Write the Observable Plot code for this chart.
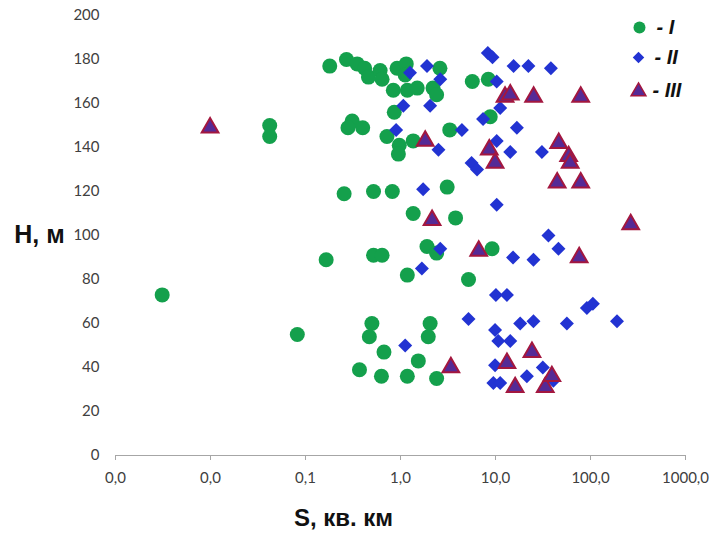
<!DOCTYPE html>
<html><head><meta charset="utf-8">
<script src="https://cdn.jsdelivr.net/npm/d3@7"></script>
<script src="https://cdn.jsdelivr.net/npm/@observablehq/plot@0.6"></script>
<style>body{margin:0;background:#fff}</style>
</head><body><div id="chart"></div>
<script>
// Series I (circles): S (km²), H (m)
const seriesI_S = [0.0031,0.042,0.042,0.082,0.165,0.18,0.27,0.35,0.42,0.46,0.61,0.64,0.84,0.92,1.15,1.12,1.18,2.6,1.5,2.2,2.4,5.7,8.4,8.8,3.3,1.36,0.97,0.31,0.28,0.40,0.72,0.95,0.86,0.255,0.52,0.82,3.1,1.36,3.8,0.52,0.64,1.9,2.4,9.2,1.18,5.2,0.50,0.47,2.05,1.96,0.67,1.54,0.37,0.63,1.18,2.4];
const seriesI_H = [73,150,145,55,89,177,180,178,176,172,175,171,166,176,178,173,166,176,167,167,164,170,171,154,148,143,141,152,149,149,145,137,156,119,120,120,122,110,108,91,91,95,92,94,82,80,60,54,60,54,47,43,39,36,36,35];
// Series II (diamonds)
const seriesII_S = [8.3,9.3,15.5,22.2,38.3,10.3,1.9,1.26,2.62,2.05,1.07,11.2,7.4,16.8,4.43,0.9,2.51,10.3,14.3,30.8,5.6,6.4,1.73,10.3,2.62,15.3,25.1,36.1,46,1.68,10.1,13.2,5.2,9.9,10.7,14.3,18.2,25.1,56.4,91.6,106,190,1.12,9.9,9.5,11.2,21.4,31.5,40.7];
const seriesII_H = [183,181,177,177,176,170,177,174,171,159,159,158,153,149,148,148,139,143,138,138,133,130,121,114,94,90,89,100,94,85,73,73,62,57,52,52,60,61,60,67,69,61,50,41,33,33,36,40,34];
// Series III (triangles)
const seriesIII_S = [0.0099,1.82,2.15,8.6,9.9,12.6,14.3,25.2,78.9,46.3,58.9,61.1,44.6,78.9,6.66,265,76,3.39,13.2,24.2,16.1,33.4,39.2];
const seriesIII_H = [149,143,107,139,133,163,164,163,163,142,136,133,124,124,93,105,90,40,42,47,31,31,36];

const xTicks = [0.001,0.01,0.1,1,10,100,1000];
const xTickLabels = ["0,0","0,0","0,1","1,0","10,0","100,0","1000,0"];
const yTicks = [0,20,40,60,80,100,120,140,160,180,200];
const seriesNames = ["- I","- II","- III"];
const xTitle = "S, кв. км";
const yTitle = "H, м";

const toRows = (S, H) => S.map((s, i) => ({S: s, H: H[i]}));
const dI = toRows(seriesI_S, seriesI_H);
const dII = toRows(seriesII_S, seriesII_H);
const dIII = toRows(seriesIII_S, seriesIII_H);

const green = "#14a04c", blue = "#2233d2", triFill = "#552a96", triStroke = "#a3173f";
const bold = {fontFamily: "Liberation Sans, Arial, sans-serif", fontWeight: "bold", fill: "#111"};
const legendText = {frameAnchor: "top-right", text: d => d, textAnchor: "start", lineAnchor: "middle", fontSize: 20, fontStyle: "italic", ...bold};

const chart = Plot.plot({
  width: 724, height: 533,
  marginLeft: 115, marginRight: 39, marginTop: 15, marginBottom: 78,
  style: {fontFamily: "Lato, sans-serif", fontSize: "15px", color: "#404040", background: "#fff"},
  x: {type: "log", domain: [0.001, 1000]},
  y: {domain: [0, 200]},
  marks: [
    Plot.ruleY([0], {stroke: "#a6a6a6", strokeWidth: 1.2}),
    Plot.axisX({ticks: xTicks, tickFormat: d => xTickLabels[xTicks.indexOf(d)], tickSize: 5, tickPadding: 12, stroke: "#a6a6a6", fill: "#404040", fontSize: 15, label: null}),
    Plot.axisY({ticks: yTicks, tickSize: 0, tickPadding: 16, fill: "#404040", fontSize: 15, label: null}),
    Plot.dot(dI, {x: "S", y: "H", r: 7.5, fill: green, symbol: "circle"}),
    Plot.dot(dII, {x: "S", y: "H", r: 6.3, fill: blue, symbol: "diamond2"}),
    Plot.dot(dIII, {x: "S", y: "H", r: 6.2, fill: triFill, stroke: triStroke, strokeWidth: 2, symbol: "triangle"}),
    // legend
    Plot.dot([seriesNames[0]], {frameAnchor: "top-right", dx: -46, dy: 12, r: 6, fill: green, symbol: "circle"}),
    Plot.dot([seriesNames[1]], {frameAnchor: "top-right", dx: -47, dy: 42, r: 5.2, fill: blue, symbol: "diamond2"}),
    Plot.dot([seriesNames[2]], {frameAnchor: "top-right", dx: -47, dy: 76, r: 5.5, fill: triFill, stroke: triStroke, strokeWidth: 1.5, symbol: "triangle"}),
    Plot.text([seriesNames[0]], {...legendText, dx: -29, dy: 12}),
    Plot.text([seriesNames[1]], {...legendText, dx: -31, dy: 42}),
    Plot.text([seriesNames[2]], {...legendText, dx: -33, dy: 75}),
    // axis titles
    Plot.text([xTitle], {frameAnchor: "bottom", dx: -57, dy: 63, text: d => d, textAnchor: "middle", lineAnchor: "middle", fontSize: 24, ...bold}),
    Plot.text([yTitle], {frameAnchor: "left", dx: -76, dy: -1, text: d => d, textAnchor: "middle", lineAnchor: "middle", fontSize: 25, ...bold})
  ]
});
document.getElementById("chart").appendChild(chart);
</script>
</body></html>
